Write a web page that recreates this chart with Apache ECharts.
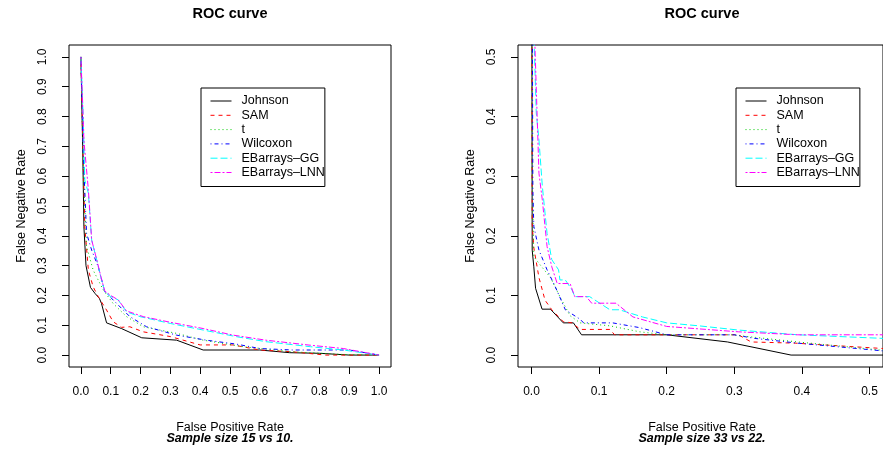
<!DOCTYPE html>
<html>
<head>
<meta charset="utf-8">
<script src="https://cdn.jsdelivr.net/npm/echarts@6/dist/echarts.min.js"></script>
<style>
  html, body { margin: 0; padding: 0; background: #fff; }
  #roc { width: 883px; height: 451px; }
</style>
</head>
<body>
<div id="roc"></div>
<script>
// 系列名称和颜色（R 的默认调色板）
var methods = ['Johnson', 'SAM', 't', 'Wilcoxon', 'EBarrays–GG', 'EBarrays–LNN'];
var colors = ['#000000', '#FF0000', '#00CD00', '#0000FF', '#00FFFF', '#FF00FF'];
var dashes = ['solid', [4, 4], [1, 3], [1, 3, 4, 3], [7, 3], [2, 2, 6, 2]];

// 刻度标签
var xTicksLeft = [0, 0.1, 0.2, 0.3, 0.4, 0.5, 0.6, 0.7, 0.8, 0.9, 1.0];
var yTicksLeft = [0, 0.1, 0.2, 0.3, 0.4, 0.5, 0.6, 0.7, 0.8, 0.9, 1.0];
var xTicksRight = [0, 0.1, 0.2, 0.3, 0.4, 0.5];
var yTicksRight = [0, 0.1, 0.2, 0.3, 0.4, 0.5];

// 左图: Sample size 15 vs 10  [FPR, FNR]
var johnsonA = [[0,1],[0.006,0.69],[0.01,0.43],[0.017,0.30],[0.032,0.227],[0.047,0.207],[0.062,0.19],[0.069,0.173],[0.086,0.108],[0.136,0.089],[0.204,0.058],[0.321,0.05],[0.41,0.017],[0.6,0.017],[0.70,0.008],[0.80,0.006],[0.90,0],[1,0]];
var samA = [[0,1],[0.006,0.72],[0.013,0.43],[0.025,0.285],[0.041,0.229],[0.058,0.196],[0.086,0.151],[0.108,0.112],[0.136,0.093],[0.164,0.095],[0.209,0.078],[0.30,0.062],[0.40,0.034],[0.51,0.034],[0.60,0.017],[0.71,0.011],[0.82,0],[1,0]];
var tA = [[0,1],[0.008,0.61],[0.019,0.364],[0.041,0.285],[0.075,0.218],[0.108,0.173],[0.153,0.129],[0.209,0.095],[0.32,0.073],[0.41,0.05],[0.545,0.028],[0.71,0.011],[0.88,0.002],[1,0]];
var wilcoxonA = [[0,1],[0.008,0.666],[0.019,0.408],[0.036,0.352],[0.058,0.296],[0.08,0.213],[0.12,0.173],[0.164,0.129],[0.22,0.095],[0.32,0.067],[0.42,0.05],[0.52,0.037],[0.60,0.022],[0.71,0.017],[0.90,0.017],[1,0]];
var ggA = [[0,1],[0.008,0.789],[0.013,0.587],[0.025,0.543],[0.036,0.386],[0.053,0.319],[0.069,0.252],[0.08,0.213],[0.097,0.198],[0.125,0.185],[0.153,0.145],[0.198,0.129],[0.30,0.106],[0.41,0.084],[0.52,0.062],[0.62,0.045],[0.77,0.028],[0.88,0.017],[1,0]];
var lnnA = [[0,1],[0.01,0.72],[0.025,0.554],[0.036,0.386],[0.053,0.32],[0.069,0.255],[0.08,0.215],[0.1,0.2],[0.125,0.185],[0.153,0.148],[0.209,0.129],[0.30,0.11],[0.41,0.089],[0.51,0.067],[0.62,0.05],[0.77,0.033],[0.88,0.022],[1,0]];

// 右图: Sample size 33 vs 22
var johnsonB = [[0,1],[0.001,0.176],[0.0034,0.148],[0.006,0.112],[0.0156,0.077],[0.028,0.077],[0.047,0.054],[0.062,0.054],[0.074,0.034],[0.2,0.034],[0.29,0.022],[0.384,0],[0.52,0]];
var samB = [[0,1],[0.001,0.22],[0.0034,0.18],[0.011,0.13],[0.02,0.092],[0.03,0.076],[0.047,0.056],[0.06,0.054],[0.072,0.043],[0.116,0.043],[0.123,0.034],[0.2,0.034],[0.306,0.034],[0.325,0.022],[0.39,0.02],[0.52,0.011]];
var tB = [[0,1],[0.001,0.3],[0.0034,0.165],[0.013,0.151],[0.028,0.13],[0.042,0.098],[0.057,0.066],[0.072,0.054],[0.116,0.049],[0.16,0.039],[0.2,0.034],[0.296,0.034],[0.394,0.022],[0.52,0.008]];
var wilcoxonB = [[0,1],[0.002,0.277],[0.0034,0.216],[0.011,0.176],[0.023,0.143],[0.035,0.115],[0.05,0.076],[0.072,0.06],[0.077,0.054],[0.12,0.054],[0.16,0.046],[0.2,0.034],[0.3,0.034],[0.33,0.028],[0.394,0.02],[0.52,0.007]];
var ggB = [[0,1],[0.004,0.52],[0.007,0.406],[0.011,0.361],[0.016,0.283],[0.023,0.204],[0.03,0.16],[0.04,0.143],[0.042,0.126],[0.05,0.126],[0.06,0.109],[0.064,0.098],[0.086,0.098],[0.116,0.076],[0.13,0.076],[0.164,0.064],[0.2,0.054],[0.248,0.049],[0.306,0.042],[0.394,0.034],[0.52,0.028]];
var lnnB = [[0,1],[0.005,0.52],[0.011,0.305],[0.016,0.26],[0.023,0.182],[0.03,0.148],[0.038,0.12],[0.057,0.12],[0.064,0.098],[0.081,0.098],[0.089,0.087],[0.125,0.087],[0.15,0.064],[0.2,0.048],[0.306,0.039],[0.394,0.034],[0.52,0.034]];

var leftData = [johnsonA, samA, tA, wilcoxonA, ggA, lnnA];
var rightData = [johnsonB, samB, tB, wilcoxonB, ggB, lnnB];

var FONT = "'Liberation Sans', Arial, Helvetica, sans-serif";

function xAxisOf(gridIndex, min, max, ticks) {
    return {
        type: 'value', gridIndex: gridIndex, min: min, max: max, position: 'bottom',
        axisLine: { show: false, onZero: false },
        splitLine: { show: false },
        axisTick: { show: true, inside: false, length: 7, customValues: ticks, lineStyle: { color: '#000' } },
        axisLabel: {
            customValues: ticks, margin: 19, color: '#000',
            fontFamily: FONT, fontSize: 12,
            formatter: function (v) { return v.toFixed(1); }
        }
    };
}
function yAxisOf(gridIndex, min, max, ticks) {
    return {
        type: 'value', gridIndex: gridIndex, min: min, max: max, position: 'left',
        axisLine: { show: false, onZero: false },
        splitLine: { show: false },
        axisTick: { show: true, inside: false, length: 7, customValues: ticks, lineStyle: { color: '#000' } },
        axisLabel: {
            customValues: ticks, margin: 20, rotate: 90, color: '#000',
            fontFamily: FONT, fontSize: 12,
            formatter: function (v) { return v.toFixed(1); }
        }
    };
}

var series = [];
[leftData, rightData].forEach(function (set, gi) {
    set.forEach(function (d, i) {
        series.push({
            name: methods[i], type: 'line',
            xAxisIndex: gi, yAxisIndex: gi,
            data: d, symbol: 'none', clip: true, silent: true,
            lineStyle: { color: colors[i], width: 1, type: dashes[i] },
            itemStyle: { color: colors[i] }
        });
    });
});

function legendOf(left) {
    return {
        data: methods, orient: 'vertical', left: left, top: 88,
        borderColor: '#000', borderWidth: 1, borderRadius: 0,
        padding: [6, 0, 7, 9], itemGap: 0.3, itemWidth: 21, itemHeight: 14,
        selectedMode: false,
        itemStyle: { opacity: 0 },
        lineStyle: { width: 1 },
        textStyle: { fontFamily: FONT, fontSize: 12.5, color: '#000', lineHeight: 14, padding: [0, 0, 0, 5] }
    };
}

function text(x, y, str, font, rot) {
    return {
        type: 'text', x: x, y: y, rotation: rot || 0, silent: true,
        style: { text: str, font: font, fill: '#000', textAlign: 'center', textVerticalAlign: 'middle' }
    };
}

var myChart = echarts.init(document.getElementById('roc'));
var option = {
    animation: false,
    backgroundColor: '#fff',
    grid: [
        { left: 69, top: 45, width: 322, height: 322, show: true, borderColor: '#000', borderWidth: 1, backgroundColor: 'transparent' },
        { left: 518, top: 45, width: 368, height: 322, show: true, borderColor: '#000', borderWidth: 1, backgroundColor: 'transparent' }
    ],
    xAxis: [xAxisOf(0, -0.04, 1.04, xTicksLeft), xAxisOf(1, -0.02, 0.52, xTicksRight)],
    yAxis: [yAxisOf(0, -0.04, 1.04, yTicksLeft), yAxisOf(1, -0.02, 0.52, yTicksRight)],
    legend: [legendOf(201), legendOf(736)],
    series: series,
    graphic: [
        text(230, 14, 'ROC curve', 'bold 14.5px ' + FONT),
        text(702, 14, 'ROC curve', 'bold 14.5px ' + FONT),
        text(230, 428, 'False Positive Rate', '12.5px ' + FONT),
        text(702, 428, 'False Positive Rate', '12.5px ' + FONT),
        text(230, 439, 'Sample size 15 vs 10.', 'italic bold 12.5px ' + FONT),
        text(702, 439, 'Sample size 33 vs 22.', 'italic bold 12.5px ' + FONT),
        text(22, 206, 'False Negative Rate', '12.5px ' + FONT, Math.PI / 2),
        text(471, 206, 'False Negative Rate', '12.5px ' + FONT, Math.PI / 2)
    ]
};
myChart.setOption(option);
</script>
</body>
</html>
